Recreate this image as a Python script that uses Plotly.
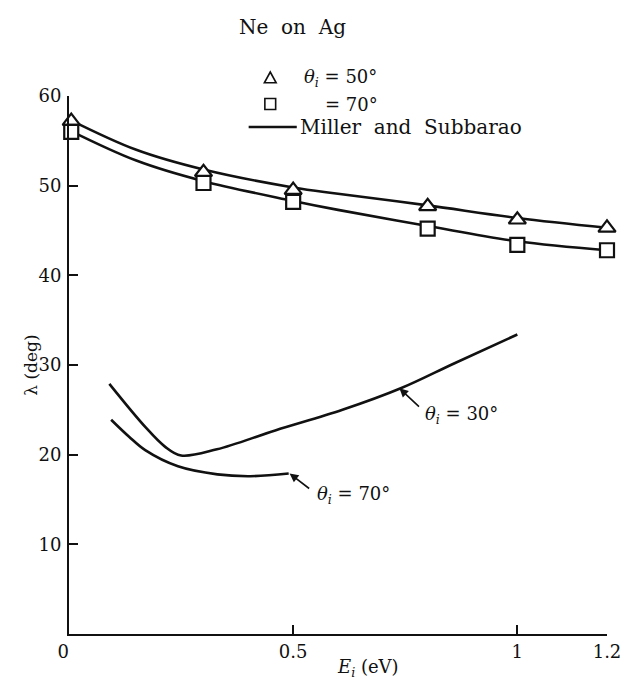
import plotly.graph_objects as go

# Measured exit-angle data, Ne scattered from Ag
E_data = [0.005, 0.3, 0.5, 0.8, 1.0, 1.2]
lam_50 = [57.2, 51.5, 49.5, 47.7, 46.2, 45.3]   # theta_i = 50 deg (triangles)
lam_70 = [56.0, 50.3, 48.2, 45.2, 43.4, 42.8]   # theta_i = 70 deg (squares)

# Miller and Subbarao curves through the measured sets
E_ms = [0.0, 0.15, 0.3, 0.5, 0.6, 0.8, 1.0, 1.2]
ms_50 = [57.4, 54.0, 51.8, 49.8, 49.1, 47.8, 46.4, 45.3]
ms_70 = [56.2, 52.8, 50.5, 48.3, 47.3, 45.5, 43.8, 42.8]

# Lower curves for theta_i = 30 and 70 deg
E_30 = [0.09, 0.17, 0.214, 0.25, 0.33, 0.46, 0.61, 0.74, 0.86, 1.0]
lam_30 = [27.9, 23.1, 20.9, 19.9, 20.6, 22.7, 25.0, 27.4, 30.2, 33.4]
E_70b = [0.094, 0.134, 0.17, 0.243, 0.331, 0.404, 0.49]
lam_70b = [23.9, 22.0, 20.5, 18.7, 17.8, 17.6, 17.9]

x_ticks = [0, 0.5, 1, 1.2]
x_ticklabels = ["0\u00a0\u00a0", "0.5", "1", "1.2"]
y_ticks = [10, 20, 30, 40, 50, 60]

FONT = "DejaVu Serif"
BLACK = "#111111"

# plot-area geometry (pixels) used for the key placed above the axes
L, R, T, B, W, H = 69, 16, 96, 54, 633, 688
PW, PH = W - L - R, H - T - B


def px(x):
    return (x - L) / PW


def py(y):
    return (H - B - y) / PH


fig = go.Figure()

line_style = dict(color=BLACK, width=2.6, shape="spline", smoothing=1.0)
for xs, ys in [(E_ms, ms_50), (E_ms, ms_70), (E_30, lam_30), (E_70b, lam_70b)]:
    fig.add_trace(go.Scatter(x=xs, y=ys, mode="lines", line=line_style,
                             showlegend=False, hoverinfo="skip"))

fig.add_trace(go.Scatter(
    x=E_data, y=lam_50, mode="markers", showlegend=False, cliponaxis=False,
    marker=dict(symbol="triangle-up", size=15, color="white",
                line=dict(color=BLACK, width=2.2))))
fig.add_trace(go.Scatter(
    x=E_data, y=lam_70, mode="markers", showlegend=False, cliponaxis=False,
    marker=dict(symbol="square", size=14, color="white",
                line=dict(color=BLACK, width=2.2))))

# key rows (pixel positions)
ROW_TITLE, ROW_50, ROW_70, ROW_MS = 27, 78, 104, 127
KEY_X = 274

tri_cx, tri_cy, s = KEY_X, ROW_50, 6
sq_cx, sq_cy, q = KEY_X, ROW_70, 5.5
shapes = [
    dict(type="path", xref="paper", yref="paper",
         path=(f"M {px(tri_cx - s)},{py(tri_cy + s * 0.8)} "
               f"L {px(tri_cx + s)},{py(tri_cy + s * 0.8)} "
               f"L {px(tri_cx)},{py(tri_cy - s)} Z"),
         line=dict(color=BLACK, width=1.6), fillcolor="white"),
    dict(type="rect", xref="paper", yref="paper",
         x0=px(sq_cx - q), x1=px(sq_cx + q), y0=py(sq_cy + q), y1=py(sq_cy - q),
         line=dict(color=BLACK, width=1.6), fillcolor="white"),
    dict(type="line", xref="paper", yref="paper",
         x0=px(252), x1=px(301), y0=py(ROW_MS), y1=py(ROW_MS),
         line=dict(color=BLACK, width=2.4)),
]

annotations = [
    dict(x=px(297), y=py(ROW_TITLE), xref="paper", yref="paper",
         text="Ne  on  Ag", showarrow=False, font=dict(size=20),
         xanchor="center", yanchor="middle"),
    dict(x=px(306), y=py(ROW_50), xref="paper", yref="paper",
         text="<i>θ<sub>i</sub></i> = 50°", showarrow=False,
         font=dict(size=18), xanchor="left", yanchor="middle"),
    dict(x=px(328), y=py(ROW_70), xref="paper", yref="paper", text="= 70°",
         showarrow=False, font=dict(size=18), xanchor="left", yanchor="middle"),
    dict(x=px(302), y=py(ROW_MS), xref="paper", yref="paper",
         text="Miller  and  Subbarao", showarrow=False,
         font=dict(size=20), xanchor="left", yanchor="middle"),
    # curve labels
    dict(x=0.737, y=27.4, ax=0.784, ay=25.2, axref="x", ayref="y", text="",
         showarrow=True, arrowhead=2, arrowsize=1.1, arrowwidth=1.6,
         arrowcolor=BLACK),
    dict(x=0.79, y=24.4, text="<i>θ<sub>i</sub></i> = 30°", showarrow=False,
         font=dict(size=18), xanchor="left", yanchor="middle"),
    dict(x=0.492, y=17.9, ax=0.539, ay=16.1, axref="x", ayref="y", text="",
         showarrow=True, arrowhead=2, arrowsize=1.1, arrowwidth=1.6,
         arrowcolor=BLACK),
    dict(x=0.548, y=15.5, text="<i>θ<sub>i</sub></i> = 70°", showarrow=False,
         font=dict(size=18), xanchor="left", yanchor="middle"),
    # axis titles
    dict(x=px(30), y=py(365), xref="paper", yref="paper", text="λ (deg)",
         textangle=-90, showarrow=False, font=dict(size=17),
         xanchor="center", yanchor="middle"),
    dict(x=px(374), y=py(668), xref="paper", yref="paper",
         text="<i>E<sub>i</sub></i> (eV)", showarrow=False, font=dict(size=18),
         xanchor="center", yanchor="middle"),
]

fig.update_layout(
    width=W, height=H,
    margin=dict(l=L, r=R, t=T, b=B),
    paper_bgcolor="white", plot_bgcolor="white",
    font=dict(family=FONT, color=BLACK, size=17),
    annotations=annotations, shapes=shapes,
    showlegend=False,
)
fig.update_xaxes(
    range=[0, 1.2], tickvals=x_ticks, ticktext=x_ticklabels,
    ticks="inside", ticklen=9, tickwidth=2, tickcolor=BLACK,
    showline=True, linewidth=2, linecolor=BLACK, showgrid=False,
    zeroline=False, tickfont=dict(size=18), ticklabelstandoff=0,
)
fig.update_yaxes(
    range=[0, 60], tickvals=y_ticks,
    ticks="inside", ticklen=9, tickwidth=2, tickcolor=BLACK,
    showline=True, linewidth=2, linecolor=BLACK, showgrid=False,
    zeroline=False, tickfont=dict(size=18), ticklabelstandoff=2,
)

fig.write_html("out.html")
